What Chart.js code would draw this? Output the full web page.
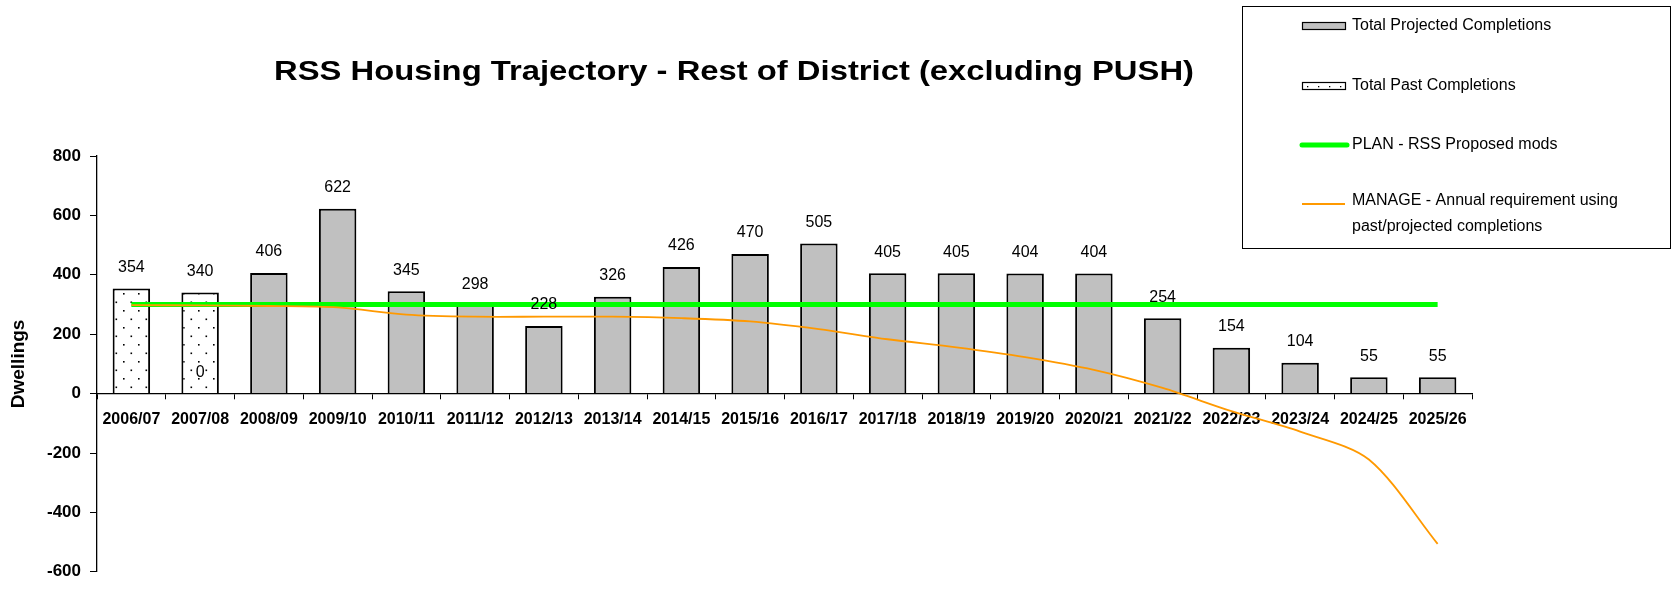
<!DOCTYPE html>
<html>
<head>
<meta charset="utf-8">
<script src="https://cdn.jsdelivr.net/npm/chart.js@4.4.1/dist/chart.umd.min.js"></script>
<style>
  html, body { margin: 0; padding: 0; background: #ffffff; }
  #wrap { width: 1674px; height: 591px; position: relative; }
</style>
</head>
<body>
<div id="wrap"><canvas id="c"></canvas></div>
<script>
const chartTitle = 'RSS Housing Trajectory - Rest of District (excluding PUSH)';
const yAxisTitle = 'Dwellings';
const categories = ['2006/07','2007/08','2008/09','2009/10','2010/11','2011/12','2012/13','2013/14','2014/15','2015/16','2016/17','2017/18','2018/19','2019/20','2020/21','2021/22','2022/23','2023/24','2024/25','2025/26'];
const pastCompletions = [354, 340, null, null, null, null, null, null, null, null, null, null, null, null, null, null, null, null, null, null];
const projectedCompletions = [null, 0, 406, 622, 345, 298, 228, 326, 426, 470, 505, 405, 405, 404, 404, 254, 154, 104, 55, 55];
const planRequirement = [300, 300, 300, 300, 300, 300, 300, 300, 300, 300, 300, 300, 300, 300, 300, 300, 300, 300, 300, 300];
const manageRequirement = [298, 297, 295, 290, 266, 259, 259, 259, 254, 243, 217, 183, 156, 123, 80, 19, -59, -128, -222, -506];
const yTicks = [-600, -400, -200, 0, 200, 400, 600, 800];

const FONT = '"Liberation Sans", Arial, Helvetica, sans-serif';

function makeDots() {
  const p = document.createElement('canvas');
  p.width = 15; p.height = 17;
  const g = p.getContext('2d');
  g.fillStyle = '#ffffff';
  g.fillRect(0, 0, 15, 17);
  g.fillStyle = '#000000';
  g.fillRect(3, 4, 1.6, 1.6);
  g.fillRect(10.5, 12.5, 1.6, 1.6);
  return g.createPattern(p, 'repeat');
}
const dotPattern = makeDots();

const labelPlugin = {
  id: 'barLabels',
  afterDatasetsDraw(chart) {
    const ctx = chart.ctx;
    ctx.save();
    ctx.font = '16px ' + FONT;
    ctx.fillStyle = '#000000';
    ctx.textAlign = 'center';
    ctx.textBaseline = 'middle';
    chart.data.datasets.forEach((ds, di) => {
      if (ds.type !== 'bar') return;
      const meta = chart.getDatasetMeta(di);
      meta.data.forEach((el, i) => {
        const v = ds.data[i];
        if (v === null || v === undefined) return;
        ctx.fillText(String(v), el.x, el.y - 21);
      });
    });
    ctx.restore();
  }
};

const decorPlugin = {
  id: 'decor',
  afterDraw(chart) {
    const ctx = chart.ctx;
    ctx.save();
    ctx.font = 'bold 27px ' + FONT;
    ctx.fillStyle = '#000000';
    ctx.textAlign = 'center';
    ctx.textBaseline = 'middle';
    const tw = ctx.measureText(chartTitle).width;
    const sxs = 920 / tw;
    ctx.save();
    ctx.translate(734, 73);
    ctx.scale(sxs, 1);
    ctx.fillText(chartTitle, 0, 0);
    ctx.restore();

    ctx.fillStyle = '#ffffff';
    ctx.fillRect(1242, 6, 428, 242);
    ctx.strokeStyle = '#000000';
    ctx.lineWidth = 1;
    ctx.strokeRect(1242.5, 6.5, 428, 242);

    const ds = chart.data.datasets;
    const sx = 1302, sw = 43, tx = 1352;
    ctx.font = '16px ' + FONT;
    ctx.textAlign = 'left';
    ctx.textBaseline = 'middle';
    ctx.fillStyle = '#c0c0c0';
    ctx.fillRect(sx, 22, sw, 7);
    ctx.strokeStyle = '#000000';
    ctx.lineWidth = 1.2;
    ctx.strokeRect(sx + 0.5, 22.5, sw, 7);
    ctx.fillStyle = '#000000';
    ctx.fillText(ds[0].label, tx, 26);
    ctx.fillStyle = '#ffffff';
    ctx.fillRect(sx, 82, sw, 7);
    ctx.strokeRect(sx + 0.5, 82.5, sw, 7);
    ctx.fillStyle = '#000000';
    for (let k = 0; k < 4; k++) ctx.fillRect(sx + 5 + k * 11, 86, 1.3, 1.3);
    ctx.fillText(ds[1].label, tx, 86);
    ctx.strokeStyle = '#00ff00';
    ctx.lineWidth = 5;
    ctx.lineCap = 'round';
    ctx.beginPath(); ctx.moveTo(sx, 145); ctx.lineTo(sx + 45, 145); ctx.stroke();
    ctx.fillStyle = '#000000';
    ctx.fillText(ds[2].label, tx, 145);
    ctx.strokeStyle = '#ff9900';
    ctx.lineWidth = 1.8;
    ctx.lineCap = 'butt';
    ctx.beginPath(); ctx.moveTo(sx, 204); ctx.lineTo(sx + 43, 204); ctx.stroke();
    ctx.fillText(ds[3].label[0], tx, 201);
    ctx.fillText(ds[3].label[1], tx, 227);
    ctx.restore();
  }
};

new Chart(document.getElementById('c'), {
  data: {
    labels: categories,
    datasets: [
      { type: 'bar', label: 'Total Projected Completions', data: projectedCompletions,
        backgroundColor: '#c0c0c0', borderColor: '#000000', borderWidth: 2,
        barPercentage: 0.545, categoryPercentage: 1, order: 3 },
      { type: 'bar', label: 'Total Past Completions', data: pastCompletions,
        backgroundColor: dotPattern, borderColor: '#000000', borderWidth: 2,
        barPercentage: 0.545, categoryPercentage: 1, order: 2 },
      { type: 'line', label: 'PLAN - RSS Proposed mods', data: planRequirement,
        borderColor: '#00ff00', borderWidth: 5, pointRadius: 0, fill: false, tension: 0, order: 1 },
      { type: 'line', label: ['MANAGE - Annual requirement using', 'past/projected completions'], data: manageRequirement,
        borderColor: '#ff9900', borderWidth: 1.8, pointRadius: 0, fill: false, tension: 0.3, order: 0 }
    ]
  },
  options: {
    responsive: true,
    maintainAspectRatio: false,
    animation: false,
    events: [],
    layout: { padding: { top: 156, bottom: 13, left: 0, right: 202 } },
    plugins: { legend: { display: false }, title: { display: false }, tooltip: { enabled: false } },
    scales: {
      x: {
        stacked: true,
        position: { y: 0 },
        offset: true,
        afterFit(scale) { scale.height = 0; },
        grid: { display: true, drawOnChartArea: false, drawTicks: true, tickLength: 5, color: '#000000', offset: true },
        border: { display: true, color: '#000000', width: 1.3 },
        ticks: { color: '#000000', font: { family: FONT, size: 16, weight: 'bold' }, padding: 11, maxRotation: 0, autoSkip: false }
      },
      y: {
        min: -600, max: 800,
        afterFit(scale) { scale.width = 97; },
        afterBuildTicks(scale) { scale.ticks = yTicks.map(v => ({ value: v })); },
        grid: { display: true, drawOnChartArea: false, drawTicks: true, tickLength: 7, color: '#000000' },
        border: { display: true, color: '#000000', width: 1.3 },
        title: { display: true, text: yAxisTitle, color: '#000000', font: { family: FONT, size: 19, weight: 'bold' }, padding: { top: 7, bottom: 0 } },
        ticks: { color: '#000000', font: { family: FONT, size: 17, weight: 'bold' }, padding: 9 }
      }
    }
  },
  plugins: [labelPlugin, decorPlugin]
});
</script>
</body>
</html>
